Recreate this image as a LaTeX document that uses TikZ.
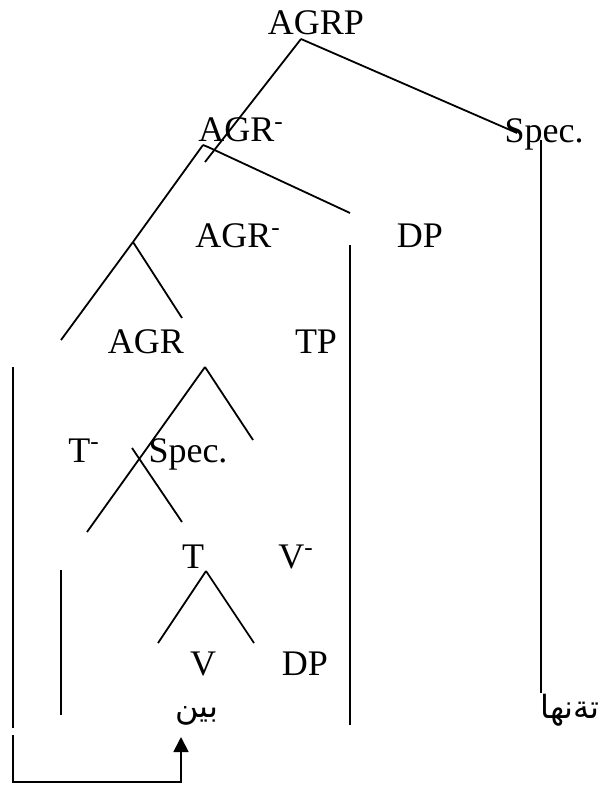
\documentclass[tikz,border=0pt]{standalone}
\usepackage{fontspec}
\setmainfont{Liberation Serif}
\newfontfamily\arabicfont[Script=Arabic]{DejaVu Sans}
\TeXXeTstate=1
\usetikzlibrary{arrows.meta}

\begin{document}
\begin{tikzpicture}[
    x=0.5pt, y=-0.5pt,
    every node/.style={font=\fontsize{18}{21}\selectfont, inner sep=0pt, anchor=base},
    branch/.style={line width=0.9pt},
    word/.style={font=\arabicfont\fontsize{16}{19}\selectfont, anchor=center}
]
\useasboundingbox (0,0) rectangle (601,785);

% Labels, row by row
\node (agrp) at (316,35) {AGRP};
\node (agrbar1) at (241,142) {AGR\textsuperscript{-}};
\node (spec1) at (544,143) {Spec.};
\node (agrbar2) at (238,248) {AGR\textsuperscript{-}};
\node (dp1) at (420,248) {DP};
\node (agr) at (146,353) {AGR};
\node (tp) at (316,353) {TP};
\node (tbar) at (84,462) {T\textsuperscript{-}};
\node (spec2) at (188,462) {Spec.};
\node (t) at (193,568) {T};
\node (vbar) at (296,568) {V\textsuperscript{-}};
\node (v) at (203,675) {V};
\node (dp2) at (305,675) {DP};
\node[word] (bin) at (197,716) {\beginR بين\endR};
\node[word] (tenha) at (570,710) {\beginR تةنها\endR};

% Branch points and line ends
\coordinate (agrpfoot) at (301,39);
\coordinate (agrpleft) at (205,162);
\coordinate (agrpright) at (517,133);
\coordinate (agrbarfoot) at (203,145);
\coordinate (agrbarhook) at (208,147);
\coordinate (agrbarright) at (350,213);
\coordinate (agrbar2foot) at (133,242);
\coordinate (agrbar2left) at (61,340);
\coordinate (agrbar2right) at (182,318);
\coordinate (agrfoot) at (205,367);
\coordinate (agrleft) at (87,532);
\coordinate (agrright) at (253,440);
\coordinate (specfoot) at (132,448);
\coordinate (specright) at (182,522);
\coordinate (tfoot) at (206,571);
\coordinate (tleft) at (158,643);
\coordinate (tright) at (254,643);

% Tree branches
\foreach \i/\j in {agrpfoot/agrpleft, agrpfoot/agrpright,
                   agrbarfoot/agrbar2foot,
                   agrbar2foot/agrbar2left, agrbar2foot/agrbar2right,
                   agrfoot/agrleft, agrfoot/agrright, specfoot/specright,
                   tfoot/tleft, tfoot/tright}
    \draw[branch] (\i) -- (\j);
\draw[branch] (agrbarfoot) -- (agrbarhook) -- (agrbarright);

% Vertical traces
\coordinate (tr1top) at (13,367);   \coordinate (tr1bot) at (13,728);
\coordinate (tr2top) at (61,570);   \coordinate (tr2bot) at (61,715);
\coordinate (tr3top) at (350,245);  \coordinate (tr3bot) at (350,725);
\coordinate (tr4top) at (541,140);  \coordinate (tr4bot) at (541,693);
\foreach \i/\j in {tr1top/tr1bot, tr2top/tr2bot, tr3top/tr3bot, tr4top/tr4bot}
    \draw[branch] (\i) -- (\j);

% Movement arrow
\coordinate (mvstart) at (13,735);
\coordinate (mvtip) at (181,737);
\draw[branch, -{Triangle[width=7.5pt,length=7.5pt]}] (mvstart) -- (13,782) -| (mvtip);

\end{tikzpicture}
\end{document}
